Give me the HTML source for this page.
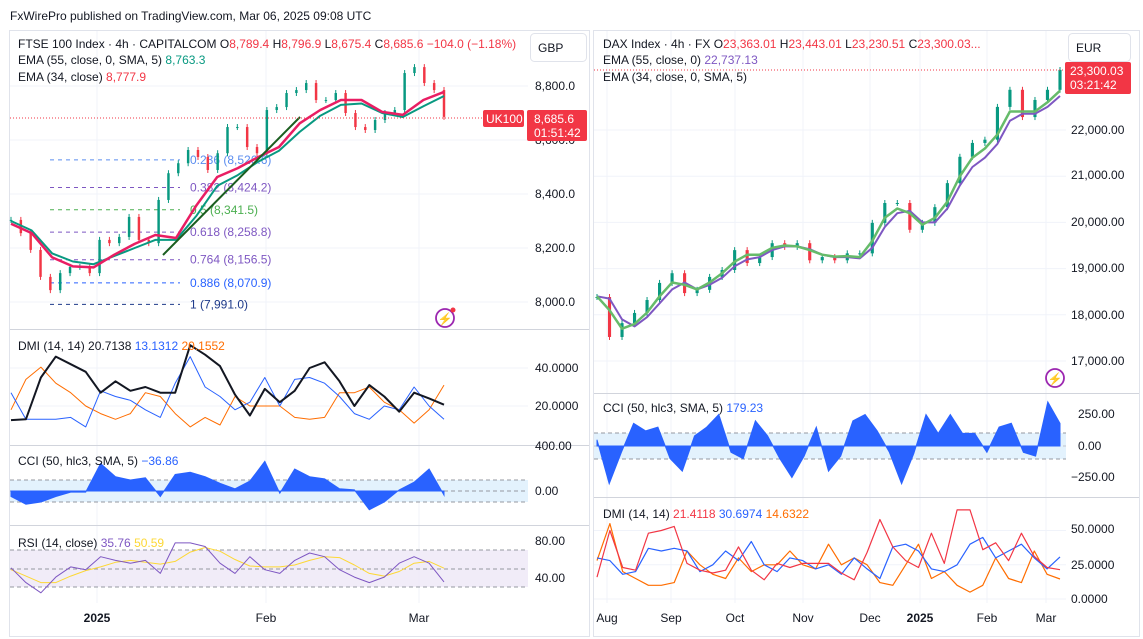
<!DOCTYPE html>
<html><head><meta charset="utf-8"><style>
html,body{margin:0;padding:0;background:#fff;}
svg{display:block;font-family:"Liberation Sans",sans-serif;}
.t{font-size:12px;fill:#131722;}
.ax{font-size:12px;fill:#131722;}
</style></head><body>
<svg id="svg" width="1143" height="639" viewBox="0 0 1143 639">
<rect x="0" y="0" width="1143" height="639" fill="#fff"/>
<text x="10" y="20" class="t">FxWirePro published on TradingView.com, Mar 06, 2025 09:08 UTC</text>
<rect x="9.5" y="30.5" width="580" height="606" fill="none" stroke="#e0e3eb"/>
<rect x="593.5" y="30.5" width="546" height="606" fill="none" stroke="#e0e3eb"/>
<g id="grid"></g>
<g stroke="#d1d4dc" stroke-width="1">
<line x1="10" y1="329.5" x2="589" y2="329.5"/><line x1="10" y1="445.5" x2="589" y2="445.5"/><line x1="10" y1="525.5" x2="589" y2="525.5"/>
<line x1="594" y1="393.5" x2="1139" y2="393.5"/><line x1="594" y1="497.5" x2="1139" y2="497.5"/>
</g>
<rect x="10" y="480" width="518" height="22" fill="#e3f2fd"/>
<rect x="10" y="550" width="518" height="37" fill="#ede7f6" opacity="0.8"/>
<rect x="594" y="433" width="472" height="26" fill="#e3f2fd"/>
<g stroke="#9598a1" stroke-dasharray="4,3">
<line x1="10" y1="480" x2="528" y2="480"/><line x1="10" y1="491" x2="528" y2="491"/><line x1="10" y1="502" x2="528" y2="502"/>
<line x1="10" y1="550" x2="528" y2="550"/><line x1="10" y1="569" x2="528" y2="569"/><line x1="10" y1="587" x2="528" y2="587"/>
<line x1="594" y1="433" x2="1066" y2="433"/><line x1="594" y1="446" x2="1066" y2="446" stroke="#c0c3cb"/><line x1="594" y1="459" x2="1066" y2="459"/>
</g>
<g id="fib"></g>
<g id="marks"></g>
<line x1="163" y1="255" x2="300" y2="117" stroke="#1b5e20" stroke-width="2"/>
<line x1="10" y1="118" x2="483" y2="118" stroke="#f23645" stroke-dasharray="1,2"/>
<line x1="594" y1="70" x2="1066" y2="70" stroke="#f23645" stroke-dasharray="1,2"/>
<text x="18" y="48" class="t">FTSE 100 Index · 4h · CAPITALCOM  O<tspan fill="#f23645">8,789.4</tspan>  H<tspan fill="#f23645">8,796.9</tspan>  L<tspan fill="#f23645">8,675.4</tspan>  C<tspan fill="#f23645">8,685.6</tspan>  <tspan fill="#f23645">−104.0 (−1.18%)</tspan></text>
<text x="18" y="64" class="t">EMA (55, close, 0, SMA, 5) <tspan fill="#089981">8,763.3</tspan></text>
<text x="18" y="81" class="t">EMA (34, close) <tspan fill="#f23645">8,777.9</tspan></text>
<text x="18" y="350" class="t">DMI (14, 14)  20.7138  <tspan fill="#2962ff">13.1312</tspan>  <tspan fill="#ff6d00">20.1552</tspan></text>
<text x="18" y="465" class="t">CCI (50, hlc3, SMA, 5)  <tspan fill="#2962ff">−36.86</tspan></text>
<text x="18" y="547" class="t">RSI (14, close)  <tspan fill="#7e57c2">35.76</tspan>  <tspan fill="#fdd835">50.59</tspan></text>
<text x="603" y="48" class="t">DAX Index · 4h · FX  O<tspan fill="#f23645">23,363.01</tspan>  H<tspan fill="#f23645">23,443.01</tspan>  L<tspan fill="#f23645">23,230.51</tspan>  C<tspan fill="#f23645">23,300.03...</tspan></text>
<text x="603" y="64" class="t">EMA (55, close, 0)  <tspan fill="#7e57c2">22,737.13</tspan></text>
<text x="603" y="81" class="t">EMA (34, close, 0, SMA, 5)</text>
<text x="603" y="412" class="t">CCI (50, hlc3, SMA, 5)  <tspan fill="#2962ff">179.23</tspan></text>
<text x="603" y="518" class="t">DMI (14, 14)  <tspan fill="#f23645">21.4118</tspan>  <tspan fill="#2962ff">30.6974</tspan>  <tspan fill="#ff6d00">14.6322</tspan></text>
<g class="ax">
<text x="535" y="90">8,800.0</text><text x="535" y="144">8,600.0</text><text x="535" y="198">8,400.0</text><text x="535" y="252">8,200.0</text><text x="535" y="306">8,000.0</text>
<text x="535" y="372">40.0000</text><text x="535" y="410">20.0000</text>
<text x="535" y="450">400.00</text><text x="535" y="495">0.00</text>
<text x="535" y="545">80.00</text><text x="535" y="582">40.00</text>
</g>
<g class="ax">
<text x="1071" y="134">22,000.00</text><text x="1071" y="179">21,000.00</text><text x="1071" y="226">20,000.00</text><text x="1071" y="272">19,000.00</text><text x="1071" y="319">18,000.00</text><text x="1071" y="365">17,000.00</text>
<text x="1078" y="418">250.00</text><text x="1078" y="450">0.00</text><text x="1071" y="481">−250.00</text>
<text x="1071" y="533">50.0000</text><text x="1071" y="569">25.0000</text><text x="1071" y="603">0.0000</text>
</g>
<g class="ax" text-anchor="middle">
<text x="97" y="622" font-weight="bold">2025</text><text x="266" y="622">Feb</text><text x="419" y="622">Mar</text>
</g>
<g class="ax" text-anchor="middle">
<text x="607" y="622">Aug</text><text x="671" y="622">Sep</text><text x="735" y="622">Oct</text><text x="803" y="622">Nov</text><text x="870" y="622">Dec</text><text x="920" y="622" font-weight="bold">2025</text><text x="987" y="622">Feb</text><text x="1046" y="622">Mar</text>
</g>
<rect x="530.5" y="33.5" width="56" height="28" rx="4" fill="#fff" stroke="#e0e3eb"/>
<text x="538" y="52" class="t">GBP</text>
<rect x="1068.5" y="33.5" width="62" height="28" rx="4" fill="#fff" stroke="#e0e3eb"/>
<text x="1076" y="52" class="t">EUR</text>
<rect x="483" y="110" width="41" height="17" rx="2" fill="#f23645"/>
<text x="486" y="123" font-size="12" fill="#fff">UK100</text>
<rect x="527" y="110" width="60" height="31" rx="2" fill="#f23645"/>
<text x="534" y="123" font-size="12" fill="#fff">8,685.6</text>
<text x="534" y="137" font-size="12" fill="#fff">01:51:42</text>
<rect x="1065" y="62" width="66" height="32" rx="2" fill="#f23645"/>
<text x="1070" y="75" font-size="12" fill="#fff">23,300.03</text>
<text x="1070" y="89" font-size="12" fill="#fff">03:21:42</text>
<g><circle cx="445" cy="318" r="9" fill="none" stroke="#9c27b0" stroke-width="1.8"/><text x="445" y="323" text-anchor="middle" font-size="12" fill="#9c27b0">⚡</text><circle cx="453" cy="310" r="2.5" fill="#f23645"/></g>
<g><circle cx="1055" cy="378" r="9" fill="none" stroke="#9c27b0" stroke-width="1.8"/><text x="1055" y="383" text-anchor="middle" font-size="12" fill="#9c27b0">⚡</text></g>
</svg>
<script>
const ftseClose = [8304,8255,8193,8093,8044,8107,8130,8130,8107,8230,8218,8241,8315,8230,8218,8378,8477,8514,8563,8537,8489,8551,8648,8648,8574,8551,8711,8722,8774,8785,8811,8748,8748,8774,8700,8648,8637,8674,8700,8711,8848,8870,8811,8785,8685.6];
const ftseEma34 = [8290,8255,8165,8132,8128,8175,8215,8248,8237,8359,8463,8496,8537,8574,8662,8711,8748,8748,8704,8693,8748,8778];
const ftseEma55 = [8300,8265,8180,8150,8140,8170,8200,8230,8230,8320,8430,8470,8520,8560,8630,8690,8730,8735,8700,8685,8725,8763];
const ftseAdx = [12.6,13,35,46,42,38,27,33,28,30,27,27,52,47,41,26,15,29,22,28,40,43,33,20,31,25,17,27,24,20.7];
const ftsePlusDi = [27,13,13,13,14,9,28,25,23,18,14,32,46,30,25,18,22,35,20,34,35,32,25,16,13,20,18,30,20,13];
const ftseMinusDi = [18,34,40.5,32,27,20,16,13,16,27,25,16,9,14,10,25,20,20,20,14,13,14,27,27,30,22,18,11,18,31];
const ftseCci = [-50,-120,-100,-50,-10,-10,250,130,100,120,-50,150,170,130,70,20,90,270,-20,200,130,110,20,10,-170,-100,10,80,200,-36.86];
const ftseRsi = [51,35,24,41,52,49,63,59,56,59,45,78,78,74,56,45,63,49,45,59,67,63,49,41,35,41,56,63,56,35.76];
const ftseRsiMa = [49,42,35,35,42,48,52,57,59,57,55,58,68,73,69,60,53,52,52,54,59,63,62,54,45,42,47,56,58,50.59];
const ftseFibLevels = [0.236,0.382,0.5,0.618,0.764,0.886,1];
const ftseFibPrices = [8526.6,8424.2,8341.5,8258.8,8156.5,8070.9,7991.0];
const ftsePriceTicks = [8000,8200,8400,8600,8800];
const daxClose = [18385,17520,17820,18040,18320,18690,18900,18470,18540,18820,18970,19400,19120,19250,19550,19470,19550,19180,19250,19180,19330,19330,19990,20420,20420,19840,19990,20330,20850,21420,21720,21790,22500,22870,22280,22650,22870,23300.03];
const daxEma34 = [18400,18100,17700,17800,18050,18400,18700,18650,18550,18700,18900,19150,19300,19300,19450,19500,19480,19400,19300,19260,19270,19250,19600,20100,20300,20200,19950,20100,20450,21000,21400,21600,21900,22400,22400,22400,22600,22850];
const daxEma55 = [18400,18350,17900,17750,17950,18250,18550,18700,18550,18650,18800,19050,19200,19250,19400,19480,19480,19420,19300,19250,19250,19220,19450,19900,20200,20250,20000,20000,20300,20800,21200,21400,21700,22200,22350,22350,22500,22737];
const daxCci = [50,-300,-50,180,120,150,-100,-200,80,150,250,-50,-100,200,80,-100,-250,-80,150,-200,-80,200,250,120,-50,-300,-60,250,100,250,100,100,-50,150,180,-50,-80,350,179.23];
const daxAdx = [16,50,23,21,48,50,53,26,21,19,21,38,21,14,26,23,26,26,26,19,14,34,58,38,28,23,48,26,65,65,36,41,28,48,31,23,21.4];
const daxPlusDi = [30,28,18,20,37,35,37,35,20,25,35,28,42,25,20,30,28,22,25,18,30,22,15,38,40,35,22,20,25,40,45,30,35,40,30,22,30.7];
const daxMinusDi = [28,55,20,15,10,10,12,35,25,18,15,30,20,25,25,35,25,22,40,25,30,25,12,10,25,40,15,20,10,5,10,30,15,12,35,18,14.6];
const daxPriceTicks = [17000,18000,19000,20000,21000,22000];

const NS = 'http://www.w3.org/2000/svg';
const marks = document.getElementById('marks');
const grid = document.getElementById('grid');
const fib = document.getElementById('fib');
function xL(i, n){ return 11 + i*(444-11)/(n-1); }
function xR(i, n){ return 597 + i*(1060-597)/(n-1); }
const yFtse = p => 302 - (p-8000)*0.27;
const yFtseDmi = v => 406 - (v-20)*1.9;
const yFtseCci = v => 491 - v*0.11;
const yFtseRsi = v => 578 - (v-40)*0.925;
const yDax = p => 130 - (p-22000)*0.0462;
const yDaxCci = v => 446 - v*0.126;
const yDaxDmi = v => 599 - v*1.37;

function mk(tag, attrs){ const e = document.createElementNS(NS, tag); for (const k in attrs) e.setAttribute(k, attrs[k]); return e; }

[97,266,419].forEach(x => { const l = mk('line',{x1:x,y1:31,x2:x,y2:603,stroke:'#f0f3fa'});   grid.appendChild(l); });
[607,671,735,803,870,920,987,1046].forEach(x => { const l = mk('line',{x1:x,y1:31,x2:x,y2:603,stroke:'#f0f3fa'});   grid.appendChild(l); });
ftsePriceTicks.forEach(p => { const y = yFtse(p); const l = mk('line',{x1:10,y1:y,x2:528,y2:y,stroke:'#f0f3fa'});   grid.appendChild(l); });
daxPriceTicks.forEach(p => { const y = yDax(p); const l = mk('line',{x1:594,y1:y,x2:1066,y2:y,stroke:'#f0f3fa'});   grid.appendChild(l); });
[40,20].forEach(v => { const y = yFtseDmi(v); const l = mk('line',{x1:10,y1:y,x2:528,y2:y,stroke:'#f0f3fa'});   grid.appendChild(l); });
[50,25,0].forEach(v => { const y = yDaxDmi(v); const l = mk('line',{x1:594,y1:y,x2:1066,y2:y,stroke:'#f0f3fa'});   grid.appendChild(l); });

const fibColors = ['#5b8def','#7e57c2','#4caf50','#7e57c2','#7e57c2','#2962ff','#1e3a8a'];
ftseFibLevels.forEach((lv, i) => {
  const y = yFtse(ftseFibPrices[i]);
  const l = mk('line',{x1:50,y1:y,x2:180,y2:y,stroke:fibColors[i],'stroke-dasharray':'4,4'});
  
  
  fib.appendChild(l);
  const t = mk('text',{x:190,y:y+4,'font-size':12,fill:fibColors[i]});
  
  
  t.textContent = lv + ' (' + ftseFibPrices[i].toLocaleString('en-US',{minimumFractionDigits:1,maximumFractionDigits:1}) + ')';
  fib.appendChild(t);
});

function candles(arr, xf, yf, name){
  const n = arr.length, step = (xf(1,n)-xf(0,n));
  for (let i=0;i<n;i++){
    const o = i ? arr[i-1] : arr[i], c = arr[i];
    const up = c >= o, col = up ? '#089981' : '#f23645';
    const x = xf(i,n), y1 = yf(Math.max(o,c)), y2 = yf(Math.min(o,c));
    const w = mk('line',{x1:x,y1:y1-3,x2:x,y2:y2+3,stroke:col,'stroke-width':1});
    
    
    marks.appendChild(w);
    const r = mk('rect',{x:x-step*0.125,y:y1,width:step*0.25,height:Math.max(1,y2-y1),fill:col});
    
    
    marks.appendChild(r);
  }
}
function line(arr, xf, yf, color, width, name){
  const n = arr.length;
  const d = arr.map((v,i)=> (i?'L':'M') + xf(i,n).toFixed(1) + ',' + yf(v).toFixed(1)).join('');
  const p = mk('path',{d:d,fill:'none',stroke:color,'stroke-width':width,'stroke-linejoin':'round'});
  
  
  marks.appendChild(p);
}
function hist(arr, xf, yf, color, name){
  const n = arr.length, y0 = yf(0);
  let d = 'M' + xf(0,n) + ',' + y0;
  arr.forEach((v,i)=>{ d += 'L' + xf(i,n).toFixed(1) + ',' + yf(v).toFixed(1); });
  d += 'L' + xf(n-1,n) + ',' + y0 + 'Z';
  const p = mk('path',{d:d,fill:color,stroke:color,'stroke-width':1});
  
  
  marks.appendChild(p);
}

candles(ftseClose, xL, yFtse, 'ftse');
line(ftseEma55, xL, yFtse, '#089981', 2, 'ftse-ema55-line');
line(ftseEma34, xL, yFtse, '#e91e63', 2.5, 'ftse-ema34-line');
line(ftseMinusDi, xL, yFtseDmi, '#ff6d00', 1, 'ftse-minus-di-line');
line(ftsePlusDi, xL, yFtseDmi, '#2962ff', 1, 'ftse-plus-di-line');
line(ftseAdx, xL, yFtseDmi, '#131722', 2, 'ftse-adx-line');
hist(ftseCci, xL, yFtseCci, '#2962ff', 'ftse-cci-histogram');
line(ftseRsiMa, xL, yFtseRsi, '#fdd835', 1, 'ftse-rsi-ma-line');
line(ftseRsi, xL, yFtseRsi, '#7e57c2', 1, 'ftse-rsi-line');
candles(daxClose, xR, yDax, 'dax');
line(daxEma55, xR, yDax, '#7e57c2', 2, 'dax-ema55-line');
line(daxEma34, xR, yDax, '#66bb6a', 2.5, 'dax-ema34-line');
hist(daxCci, xR, yDaxCci, '#2962ff', 'dax-cci-histogram');
line(daxMinusDi, xR, yDaxDmi, '#ff6d00', 1.2, 'dax-minus-di-line');
line(daxPlusDi, xR, yDaxDmi, '#2962ff', 1.2, 'dax-plus-di-line');
line(daxAdx, xR, yDaxDmi, '#f23645', 1.2, 'dax-adx-line');
</script>
</body></html>
